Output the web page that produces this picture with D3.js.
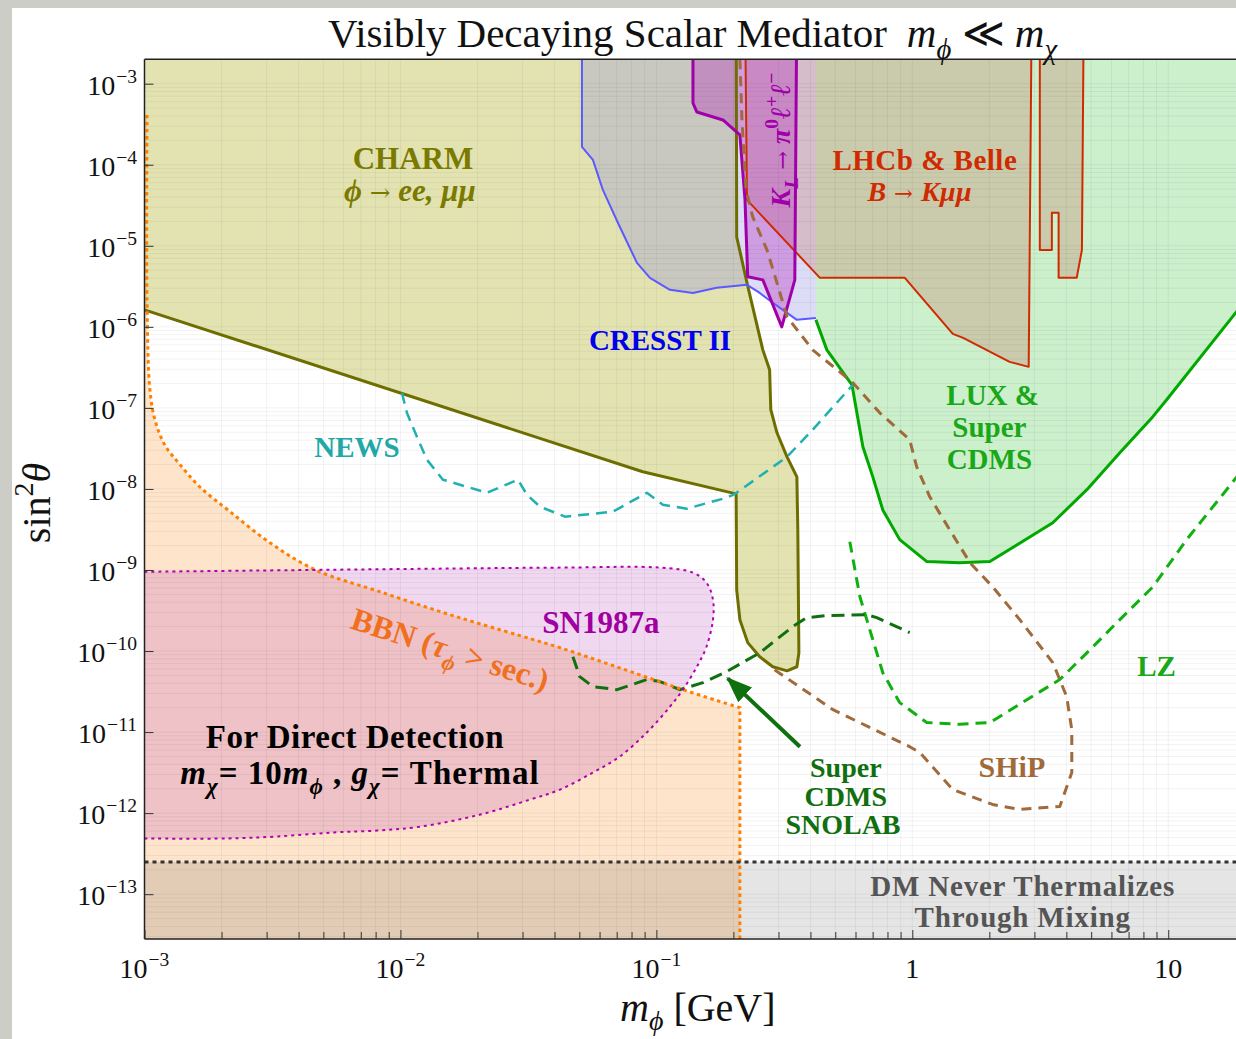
<!DOCTYPE html>
<html>
<head>
<meta charset="utf-8">
<script src="https://cdn.jsdelivr.net/npm/d3@7"></script>
<style>
  body { margin: 0; background: #cdcdc7; }
  svg { display: block; }
</style>
</head>
<body>
<svg id="chart"></svg>
<script>
// axis ranges (GeV, sin^2 theta)
const xMin = 1e-3, xMax = 18.4;
const yMin = 2.8e-14, yMax = 2e-3;
const xMajor = [1e-3, 1e-2, 1e-1, 1, 10];
const xMajorLabels = [["10", "−3"], ["10", "−2"], ["10", "−1"], ["1", ""], ["10", ""]];
const yMajor = [1e-3, 1e-4, 1e-5, 1e-6, 1e-7, 1e-8, 1e-9, 1e-10, 1e-11, 1e-12, 1e-13];
const yMajorExp = ["−3", "−4", "−5", "−6", "−7", "−8", "−9", "−10", "−11", "−12", "−13"];

// excluded regions [m_phi, sin^2 theta]
const charmRegion = [[1e-3, 1e-2], [0.205, 1e-2], [0.206, 1.29e-5], [0.226, 3.49e-6], [0.2606, 5.2e-7],
  [0.277, 2.95e-7], [0.280, 9.5e-8], [0.296, 4.93e-8], [0.324, 2.49e-8], [0.354, 1.41e-8], [0.357, 3.14e-9],
  [0.3605, 9.5e-11], [0.354, 6.4e-11], [0.324, 5.7e-11], [0.285, 6.4e-11], [0.2535, 8.5e-11], [0.2275, 1.27e-10],
  [0.212, 2.44e-10], [0.206, 5.7e-10], [0.205, 8.7e-9], [0.0885, 1.63e-8], [1e-3, 1.62e-6]];
const cresstRegion = [[0.0512, 1e-2], [0.0512, 1.66e-4], [0.0565, 1.15e-4], [0.0618, 4.9e-5], [0.0708, 1.91e-5],
  [0.084, 6.15e-6], [0.0944, 4.02e-6], [0.113, 2.86e-6], [0.139, 2.62e-6], [0.172, 3.03e-6], [0.226, 3.3e-6],
  [0.2535, 2.62e-6], [0.285, 1.98e-6], [0.324, 1.49e-6], [0.354, 1.22e-6], [0.42, 1.29e-6], [0.42, 1e-2]];
const klRegion = [[0.139, 1e-2], [0.139, 5.78e-4], [0.144, 4.47e-4], [0.182, 3.57e-4], [0.212, 2.33e-4],
  [0.222, 3.68e-5], [0.2275, 4.14e-6], [0.2606, 3.8e-6], [0.309, 1.0e-6], [0.3475, 3.8e-6], [0.354, 1e-2]];
const lhcbRegion = [[0.222, 1e-2], [0.226, 3.68e-5], [0.4355, 4.02e-6], [0.935, 4.02e-6], [1.44, 8.2e-7],
  [1.58, 7.3e-7], [2.40, 3.7e-7], [2.85, 3.21e-7], [2.93, 1e-2]];
const lhcbRegion2 = [[3.15, 1e-2], [3.15, 8.9e-6], [3.51, 8.9e-6], [3.51, 2.55e-5], [3.73, 2.55e-5],
  [3.73, 4.02e-6], [4.39, 4.02e-6], [4.6, 8.9e-6], [4.68, 1e-2]];
const luxRegion = [[0.42, 1e-2], [0.42, 1.22e-6], [0.4636, 5.2e-7], [0.581, 1.93e-7], [0.641, 3.31e-8],
  [0.701, 1.41e-8], [0.767, 5.5e-9], [0.893, 2.37e-9], [1.14, 1.27e-9], [1.53, 1.23e-9], [2.01, 1.27e-9],
  [3.54, 3.83e-9], [4.81, 9.8e-9], [6.47, 2.79e-8], [8.71, 7.8e-8], [9.86, 1.26e-7], [20, 2.1e-6], [20, 1e-2]];
const bbnBoundary = [[1.023e-3, 4.1e-4], [1.023e-3, 2.15e-6], [1.05e-3, 1.67e-7], [1.099e-3, 7.1e-8],
  [1.2e-3, 3.5e-8], [1.377e-3, 1.99e-8], [1.65e-3, 1.05e-8], [2.16e-3, 5.24e-9], [3.09e-3, 2.17e-9],
  [4.63e-3, 1.01e-9], [8.3e-3, 5.4e-10], [0.0156, 2.81e-10], [0.0293, 1.55e-10], [0.042, 1.1e-10],
  [0.0719, 6.2e-11], [0.127, 3.34e-11], [0.212, 2.0e-11]];
const snBoundary = [[1e-3, 9.5e-10], [0.042, 1.07e-9], [0.1033, 1.07e-9], [0.139, 9.27e-10], [0.157, 6.97e-10],
  [0.1664, 4.31e-10], [0.1664, 2.44e-10], [0.157, 1.13e-10], [0.144, 6.4e-11], [0.127, 3.34e-11],
  [0.113, 2.06e-11], [0.0918, 9.9e-12], [0.0719, 4.99e-12], [0.0565, 3.17e-12], [0.042, 1.95e-12],
  [0.0321, 1.47e-12], [0.0205, 9.6e-13], [0.0119, 6.8e-13], [0.0081, 6.1e-13], [0.00545, 5.77e-13],
  [0.0033, 5.15e-13], [0.0021, 4.87e-13], [1e-3, 4.87e-13]];
const thermalLevel = 2.5e-13;

// projected sensitivities
const newsCurve = [[0.01014, 1.53e-7], [0.0106, 8.7e-8], [0.0116, 4.4e-8], [0.0127, 2.29e-8], [0.01466, 1.3e-8],
  [0.0218, 8.97e-9], [0.0288, 1.3e-8], [0.0312, 8.5e-9], [0.0351, 6.04e-9], [0.044, 4.55e-9], [0.0676, 5.24e-9],
  [0.0918, 8.97e-9], [0.106, 6.38e-9], [0.1315, 5.7e-9], [0.188, 7.8e-9], [0.203, 8.7e-9], [0.324, 2.49e-8],
  [0.408, 5.37e-8], [0.586, 1.93e-7]];
const snolabCurve = [[0.0472, 8.5e-11], [0.0502, 4.83e-11], [0.0565, 3.64e-11], [0.0702, 3.34e-11],
  [0.0918, 4.45e-11], [0.1033, 4.2e-11], [0.1236, 3.34e-11], [0.152, 4.07e-11], [0.188, 5.57e-11],
  [0.2535, 9.5e-11], [0.341, 2.0e-10], [0.387, 2.58e-10], [0.4636, 2.74e-10], [0.664, 2.81e-10],
  [0.726, 2.58e-10], [0.977, 1.69e-10]];
const lzCurve = [[0.570, 2.23e-9], [0.624, 4.69e-10], [0.682, 1.84e-10], [0.767, 5.4e-11], [0.893, 2.31e-11],
  [1.14, 1.31e-11], [1.53, 1.25e-11], [2.01, 1.31e-11], [3.77, 4.45e-11], [4.81, 9.5e-11], [6.47, 2.44e-10],
  [8.71, 6.2e-10], [11.8, 2.37e-9], [20, 1.9e-8]];
const shipCurve = [[0.212, 2e-3], [0.216, 3.57e-4], [0.224, 4.9e-5], [0.238, 2.27e-5], [0.2705, 8.9e-6],
  [0.296, 3.49e-6], [0.324, 1.33e-6], [0.408, 5.2e-7], [0.581, 2.1e-7], [0.746, 8.7e-8], [0.977, 4.05e-8],
  [1.04, 1.88e-8], [1.17, 8.0e-9], [1.40, 3.14e-9], [1.68, 1.23e-9], [2.06, 6.2e-10], [2.63, 2.44e-10],
  [3.54, 7.2e-11], [4.01, 2.74e-11], [4.2, 1.07e-11], [4.2, 3.17e-12], [3.77, 1.21e-12], [2.63, 1.11e-12],
  [2.06, 1.28e-12], [1.44, 1.95e-12], [1.07, 5.6e-12], [0.977, 6.6e-12], [0.49, 1.89e-11], [0.2825, 6.2e-11]];
const snolabArrow = [[0.364, 6.6e-12], [0.19, 4.6e-11]];

const width = 1236, height = 1039;
const svg = d3.select("#chart").attr("width", width).attr("height", height);

const x = d3.scaleLog().domain([xMin, xMax]).range([144.5, 1236]);
const y = d3.scaleLog().domain([yMin, yMax]).range([939, 59.3]);
const line = d3.line().x((d) => x(d[0])).y((d) => y(d[1]));
const smooth = d3.line().x((d) => x(d[0])).y((d) => y(d[1])).curve(d3.curveCatmullRom);

const serif = "'Liberation Serif', 'Times New Roman', serif";

svg.append("rect").attr("x", 12).attr("y", 8).attr("width", width - 12).attr("height", height - 8).attr("fill", "#fff");

svg.append("clipPath").attr("id", "plot")
  .append("rect").attr("x", x(xMin)).attr("y", y(yMax)).attr("width", x(xMax) - x(xMin)).attr("height", y(yMin) - y(yMax));

const plot = svg.append("g").attr("clip-path", "url(#plot)");

// BBN edge: smooth curve, then straight down to the axis
const bbnEnd = bbnBoundary[bbnBoundary.length - 1];
const bbnPath = smooth(bbnBoundary) + `L${x(bbnEnd[0])},${y(yMin)}`;

// fills
function fill(data, color, op, gen) {
  plot.append("path").attr("d", (gen || line)(data) + "Z").attr("fill", color).attr("fill-opacity", op).attr("stroke", "none");
}
fill(charmRegion, "rgb(163,163,0)", 0.3);
fill(cresstRegion, "rgb(139,139,225)", 0.3);
fill(luxRegion, "rgb(0,176,0)", 0.2);
fill(lhcbRegion, "rgb(200,120,100)", 0.3);
fill(lhcbRegion2, "rgb(200,120,100)", 0.3);
fill(klRegion, "rgb(180,40,190)", 0.35);
plot.append("path").attr("d", bbnPath + `L${x(xMin)},${y(yMin)}L${x(xMin)},${y(bbnBoundary[0][1])}Z`)
  .attr("fill", "rgb(245,130,20)").attr("fill-opacity", 0.22);
fill(snBoundary, "rgb(180,60,180)", 0.2, smooth);
plot.append("rect").attr("x", x(xMin)).attr("y", y(thermalLevel)).attr("width", x(xMax) - x(xMin))
  .attr("height", y(yMin) - y(thermalLevel)).attr("fill", "#000").attr("fill-opacity", 0.1);

// grid
const gridX = [], gridY = [];
for (let e = -3; e <= 1; e++) for (let k = 1; k <= 9; k++) if (k * 10 ** e <= xMax) gridX.push(k * 10 ** e);
for (let e = -14; e <= -3; e++) for (let k = 1; k <= 9; k++) gridY.push(k * 10 ** e);
plot.append("g").selectAll("line").data(gridX).enter().append("line")
  .attr("x1", (d) => x(d)).attr("x2", (d) => x(d)).attr("y1", y(yMax)).attr("y2", y(yMin))
  .attr("stroke", "#000").attr("stroke-opacity", 0.05);
plot.append("g").selectAll("line").data(gridY.filter((d) => d > yMin && d < yMax)).enter().append("line")
  .attr("y1", (d) => y(d)).attr("y2", (d) => y(d)).attr("x1", x(xMin)).attr("x2", x(xMax))
  .attr("stroke", "#000").attr("stroke-opacity", 0.05);

// strokes
function stroke(data, color, w, dash, gen) {
  const p = plot.append("path").attr("d", (gen || line)(data)).attr("fill", "none")
    .attr("stroke", color).attr("stroke-width", w).attr("stroke-linejoin", "round");
  if (dash) p.attr("stroke-dasharray", dash);
  return p;
}
stroke(charmRegion.slice(1), "#6e6e00", 3);
stroke(cresstRegion.slice(0, -1), "#5a5aff", 2);
stroke(luxRegion.slice(1, -1), "#00a800", 3);
stroke(lhcbRegion, "#d02a00", 2);
stroke(lhcbRegion2, "#d02a00", 2);
stroke(klRegion, "#a000a8", 3);
stroke(newsCurve, "#20b0b0", 2.5, "11,7");
stroke(lzCurve, "#10b010", 3, "11,7");
stroke(shipCurve, "#a06a3a", 3, "10,7");
stroke(snolabCurve, "#107010", 3, "13,7");
plot.append("path").attr("d", bbnPath).attr("fill", "none").attr("stroke", "#ff8000")
  .attr("stroke-width", 3).attr("stroke-dasharray", "3.5,3.5");
stroke(snBoundary, "#b000b0", 2, "3,4", smooth);
plot.append("line").attr("x1", x(xMin)).attr("x2", x(xMax)).attr("y1", y(thermalLevel)).attr("y2", y(thermalLevel))
  .attr("stroke", "#333").attr("stroke-width", 3).attr("stroke-dasharray", "4,4");

// arrow
svg.append("defs").append("marker").attr("id", "head").attr("markerUnits", "userSpaceOnUse")
  .attr("markerWidth", 26).attr("markerHeight", 22).attr("refX", 24).attr("refY", 11).attr("orient", "auto")
  .append("path").attr("d", "M0,1 L26,11 L0,21 Z").attr("fill", "#107010");
svg.append("path").attr("d", line(snolabArrow)).attr("stroke", "#107010").attr("stroke-width", 4)
  .attr("fill", "none").attr("marker-end", "url(#head)");

// frame + ticks
const frame = svg.append("g").attr("stroke", "#222").attr("stroke-width", 1.5);
frame.append("line").attr("x1", x(xMin)).attr("x2", x(xMin)).attr("y1", y(yMax)).attr("y2", y(yMin));
frame.append("line").attr("x1", x(xMin)).attr("x2", width).attr("y1", y(yMax)).attr("y2", y(yMax));
frame.append("line").attr("x1", x(xMin)).attr("x2", width).attr("y1", y(yMin)).attr("y2", y(yMin));

const xMinor = gridX.filter((d) => !xMajor.includes(d));
svg.append("g").attr("transform", `translate(0,${y(yMin)})`)
  .call(d3.axisBottom(x).tickValues(xMinor).tickSize(-7).tickFormat(""))
  .call((g) => g.select(".domain").remove())
  .call((g) => g.selectAll("line").attr("stroke", "#333"));
svg.append("g").attr("transform", `translate(0,${y(yMin)})`)
  .call(d3.axisBottom(x).tickValues(xMajor).tickSize(-9).tickFormat(""))
  .call((g) => g.select(".domain").remove())
  .call((g) => g.selectAll("line").attr("stroke", "#333"));
svg.append("g").attr("transform", `translate(${x(xMin)},0)`)
  .call(d3.axisLeft(y).tickValues(yMajor).tickSize(-9).tickFormat(""))
  .call((g) => g.select(".domain").remove())
  .call((g) => g.selectAll("line").attr("stroke", "#333"));

// rich text helper
function rich(sel, parts, size) {
  let shift = 0;
  parts.forEach((p) => {
    const t = sel.append("tspan").text(p.t);
    const target = p.sub ? size * (p.subShift || 0.3) : p.sup ? -size * 0.42 : 0;
    t.attr("dy", target - shift);
    shift = target;
    if (p.sub || p.sup) t.attr("font-size", size * 0.7);
    if (p.i) t.attr("font-style", "italic");
    if (p.dx) t.attr("dx", p.dx);
    if (p.arrow) t.attr("font-family", "'DejaVu Serif', serif").attr("font-weight", "normal").attr("font-size", size * 0.8);
  });
}
function label(px, py, parts, size, color, opts = {}) {
  const t = svg.append("text").attr("font-family", serif).attr("font-size", size).attr("fill", color)
    .attr("text-anchor", opts.anchor || "middle").attr("font-weight", opts.bold === false ? "normal" : "bold");
  if (opts.spacing) t.attr("letter-spacing", opts.spacing);
  if (opts.rotate) t.attr("transform", `translate(${px},${py}) rotate(${opts.rotate})`);
  else t.attr("x", px).attr("y", py);
  rich(t, parts, size);
  return t;
}

// tick labels
xMajor.forEach((v, i) => {
  const [base, ex] = xMajorLabels[i];
  const parts = [{ t: base }];
  if (ex) parts.push({ t: ex, sup: true, dx: 1 });
  label(x(v), 978, parts, 28, "#111", { bold: false });
});
yMajor.forEach((v, i) => {
  label(137, y(v) + 11, [{ t: "10" }, { t: yMajorExp[i], sup: true, dx: 1 }], 28, "#111", { anchor: "end", bold: false });
});

// titles
label(328, 47, [{ t: "Visibly Decaying Scalar Mediator" }, { t: "m", i: true, dx: 20 }, { t: "ϕ", i: true, sub: true },
  { t: " ≪ " }, { t: "m", i: true }, { t: "χ", i: true, sub: true }], 41, "#111", { anchor: "start", bold: false });
label(620, 1021, [{ t: "m", i: true }, { t: "ϕ", i: true, sub: true, subShift: 0.22 }, { t: " [GeV]" }], 40, "#111",
  { anchor: "start", bold: false });
label(50, 503, [{ t: "sin" }, { t: "2", sup: true }, { t: "θ", i: true }], 40, "#111", { rotate: -90, bold: false });

// region labels
const olive = "#7a7a00";
label(x(0.01119), y(8.8e-5), [{ t: "CHARM" }], 31, olive);
label(x(0.01089), y(3.58e-5), [{ t: "ϕ ", i: true }, { t: "→", arrow: true }, { t: " ee, μμ", i: true }], 31, olive);
label(x(1.12), y(8.6e-5), [{ t: "LHCb & Belle" }], 29, "#d02a00", { spacing: 0.5 });
label(x(1.07), y(3.6e-5), [{ t: "B ", i: true }, { t: "→", arrow: true }, { t: " Kμμ", i: true }], 28, "#d02a00", { spacing: 0.5 });
label(x(0.1033), y(5.2e-7), [{ t: "CRESST II" }], 29, "#0000ee");
label(x(6.76e-3), y(2.49e-8), [{ t: "NEWS" }], 29, "#20a8a8");
label(x(2.06), y(1.09e-7), [{ t: "LUX &" }], 29, "#18a818");
label(x(2.0), y(4.4e-8), [{ t: "Super" }], 29, "#18a818");
label(x(2.0), y(1.77e-8), [{ t: "CDMS" }], 29, "#18a818");
label(x(0.0607), y(1.69e-10), [{ t: "SN1987a" }], 31, "#a000a0");
label(x(0.0152), y(7.8e-11), [{ t: "BBN (" }, { t: "τ", i: true }, { t: "ϕ", i: true, sub: true }, { t: " > sec.)" }],
  32, "#f07020", { rotate: 18 });
label(x(6.64e-3), y(6.3e-12), [{ t: "For Direct Detection" }], 33, "#000", { spacing: 0.5 });
label(x(6.95e-3), y(2.3e-12), [{ t: "m", i: true }, { t: "χ", i: true, sub: true }, { t: "= 10" }, { t: "m", i: true },
  { t: "ϕ", i: true, sub: true }, { t: " , " }, { t: "g", i: true }, { t: "χ", i: true, sub: true }, { t: "= Thermal" }],
  33, "#000", { spacing: 1 });
label(x(0.55), y(2.82e-12), [{ t: "Super" }], 28, "#107010");
label(x(0.55), y(1.24e-12), [{ t: "CDMS" }], 28, "#107010");
label(x(0.536), y(5.6e-13), [{ t: "SNOLAB" }], 28, "#107010");
label(x(2.45), y(2.82e-12), [{ t: "SHiP" }], 30, "#a06a3a");
label(x(9.0), y(4.97e-11), [{ t: "LZ" }], 29, "#18a818");
label(x(2.7), y(9.6e-14), [{ t: "DM Never Thermalizes" }], 29, "#555", { spacing: 0.8 });
label(x(2.7), y(3.9e-14), [{ t: "Through Mixing" }], 29, "#555", { spacing: 0.8 });
label(x(0.332), y(2.02e-4), [{ t: "K", i: true }, { t: "L", i: true, sub: true }, { t: " " }, { t: "→", arrow: true },
  { t: " " }, { t: "π", i: true }, { t: "0", sup: true }, { t: "ℓ", i: true }, { t: "+", sup: true }, { t: "ℓ", i: true },
  { t: "−", sup: true }], 28, "#a000a8", { rotate: -90 });
</script>
</body>
</html>
